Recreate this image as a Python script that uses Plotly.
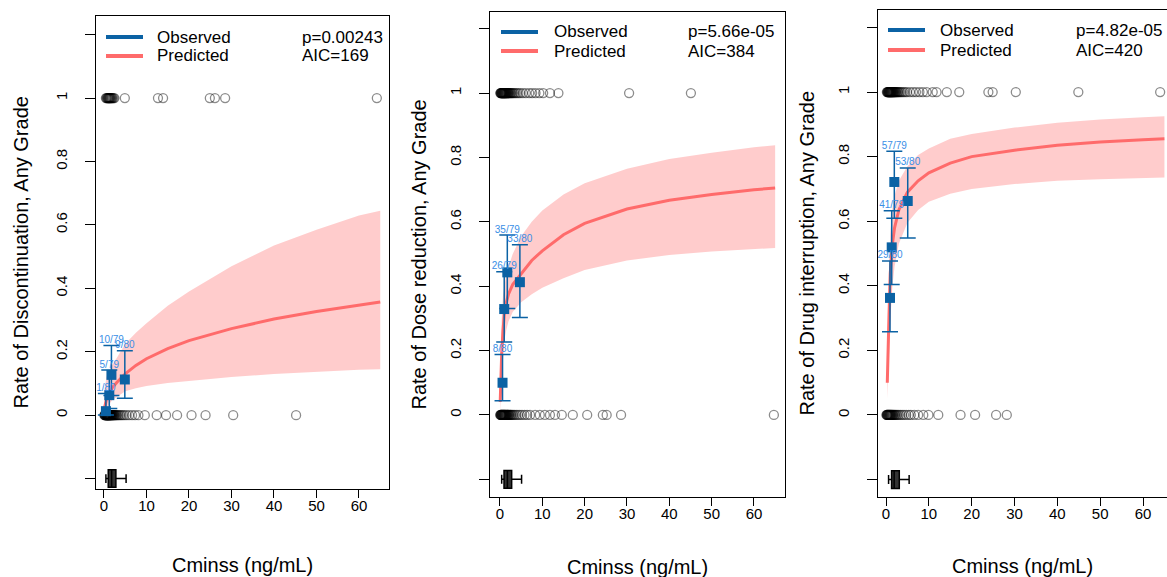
import plotly.graph_objects as go

W, H = 1167, 577

# ---------------- data ----------------
# individual patient Cminss (ng/mL) with event = 1 / event = 0
P1_ONES = [0.45, 0.6, 0.72, 0.85, 0.93, 1.02, 1.1, 1.2, 1.28, 1.36, 1.45, 1.55, 1.66, 1.78, 1.9, 2.05,
           2.25, 2.45, 4.9, 12.7, 13.9, 24.9, 26.1, 28.5, 64.2]
P1_ZEROS = [0.1, 0.16, 0.22, 0.3, 0.35, 0.41, 0.46, 0.5, 0.55, 0.59, 0.63, 0.68, 0.72, 0.76, 0.8, 0.84,
            0.87, 0.91, 0.95, 0.99, 1.03, 1.07, 1.11, 1.15, 1.19, 1.24, 1.28, 1.33, 1.38, 1.42, 1.47,
            1.52, 1.58, 1.63, 1.69, 1.75, 1.81, 1.88, 1.95, 2.02, 2.1, 2.18, 2.27, 2.37, 2.48, 2.6, 2.73,
            2.88, 3.05, 3.25, 3.48, 3.75, 4.05, 4.4, 4.8, 5.3, 5.9, 6.6, 7.3, 8.1, 9.6, 12.4, 14.6, 17.2,
            20.6, 23.9, 30.4, 45.2]
P2_ONES = [0.08, 0.15, 0.22, 0.3, 0.36, 0.42, 0.48, 0.54, 0.6, 0.66, 0.72, 0.78, 0.84, 0.9, 0.96, 1.02,
           1.08, 1.14, 1.2, 1.27, 1.34, 1.41, 1.48, 1.56, 1.64, 1.72, 1.8, 1.9, 2.0, 2.1, 2.22, 2.35, 2.5,
           2.66, 2.85, 3.05, 3.3, 3.6, 3.95, 4.35, 4.8, 5.4, 6.1, 6.9, 7.6, 8.4, 9.3, 10.2, 11.8, 13.8,
           30.5, 45.1]
P2_ZEROS = [0.06, 0.13, 0.2, 0.27, 0.33, 0.39, 0.45, 0.51, 0.57, 0.63, 0.69, 0.75, 0.81, 0.87, 0.93, 0.99,
            1.05, 1.11, 1.17, 1.24, 1.31, 1.38, 1.46, 1.54, 1.62, 1.71, 1.8, 1.9, 2.0, 2.12, 2.25, 2.4,
            2.56, 2.75, 2.95, 3.2, 3.5, 3.85, 4.25, 4.7, 5.2, 5.8, 6.4, 7.1, 8.3, 9.4, 10.6, 11.8, 13.0,
            14.6, 17.2, 20.6, 24.3, 25.2, 28.6, 64.7]
P3_ONES = [0.2, 0.3, 0.38, 0.45, 0.52, 0.58, 0.64, 0.7, 0.76, 0.82, 0.88, 0.94, 1.0, 1.06, 1.12, 1.18,
           1.24, 1.3, 1.37, 1.44, 1.51, 1.58, 1.66, 1.74, 1.82, 1.91, 2.0, 2.1, 2.2, 2.32, 2.45, 2.6,
           2.76, 2.94, 3.15, 3.4, 3.7, 4.05, 4.45, 4.9, 5.6, 6.3, 7.0, 7.8, 8.6, 9.5, 10.9, 11.8, 14.2,
           17.1, 23.9, 24.9, 30.3, 44.9, 64.0]
P3_ZEROS = [0.1, 0.18, 0.26, 0.33, 0.4, 0.47, 0.54, 0.61, 0.68, 0.75, 0.82, 0.89, 0.96, 1.03, 1.1, 1.18,
            1.26, 1.35, 1.45, 1.55, 1.66, 1.78, 1.92, 2.08, 2.25, 2.45, 2.7, 3.0, 3.35, 3.75, 4.2, 4.7,
            5.3, 5.8, 6.6, 7.5, 8.7, 9.9, 12.2, 17.4, 20.8, 25.7, 28.2]

# observed quartile bins: median Cminss, rate, CI, label
P1_BIN_X = [0.45, 1.25, 1.75, 4.9]
P1_BIN_P = [0.0125, 0.063, 0.127, 0.1125]
P1_BIN_LO = [0.0003, 0.021, 0.062, 0.053]
P1_BIN_HI = [0.068, 0.142, 0.22, 0.203]
P1_BIN_LAB = ["1/80", "5/79", "10/79", "9/80"]

P2_BIN_X = [0.6, 1.0, 1.73, 4.7]
P2_BIN_P = [0.10, 0.329, 0.443, 0.4125]
P2_BIN_LO = [0.044, 0.227, 0.331, 0.303]
P2_BIN_HI = [0.188, 0.445, 0.559, 0.529]
P2_BIN_LAB = ["8/80", "26/79", "35/79", "33/80"]

P3_BIN_X = [0.93, 1.33, 1.94, 5.07]
P3_BIN_P = [0.3625, 0.519, 0.7215, 0.6625]
P3_BIN_LO = [0.258, 0.404, 0.609, 0.548]
P3_BIN_HI = [0.477, 0.632, 0.817, 0.765]
P3_BIN_LAB = ["29/80", "41/79", "57/79", "53/80"]

# predicted curves with confidence band
P1_CX = [0.1, 0.3, 0.6, 1, 1.5, 2, 3, 5, 7.5, 10, 15, 20, 30, 40, 50, 60, 65]
P1_PRED = [0.022, 0.037, 0.05, 0.064, 0.077, 0.087, 0.103, 0.13, 0.157, 0.178, 0.21, 0.235, 0.273,
           0.303, 0.327, 0.347, 0.357]
P1_LO = [0.005, 0.012, 0.02, 0.03, 0.04, 0.048, 0.058, 0.075, 0.085, 0.092, 0.101, 0.108, 0.12, 0.13,
         0.137, 0.143, 0.145]
P1_HI = [0.08, 0.1, 0.12, 0.135, 0.15, 0.16, 0.18, 0.225, 0.26, 0.29, 0.345, 0.39, 0.47, 0.535, 0.585,
         0.63, 0.645]

P2_CX = [0.05, 0.1, 0.2, 0.4, 0.7, 1, 1.5, 2, 3, 5, 7.5, 10, 15, 20, 30, 40, 50, 60, 65]
P2_PRED = [0.04, 0.07, 0.12, 0.19, 0.26, 0.31, 0.35, 0.375, 0.405, 0.44, 0.48, 0.51, 0.56, 0.595, 0.64,
           0.667, 0.685, 0.7, 0.705]
P2_LO = [0.01, 0.025, 0.05, 0.1, 0.18, 0.23, 0.265, 0.29, 0.32, 0.35, 0.375, 0.395, 0.425, 0.45, 0.48,
         0.497, 0.508, 0.516, 0.519]
P2_HI = [0.12, 0.16, 0.22, 0.3, 0.37, 0.4, 0.44, 0.46, 0.5, 0.555, 0.6, 0.635, 0.685, 0.72, 0.765,
         0.795, 0.815, 0.832, 0.838]

P3_CX = [0.3, 0.4, 0.5, 0.7, 1, 1.5, 2, 3, 5, 7.5, 10, 15, 20, 30, 40, 50, 60, 65]
P3_PRED = [0.1, 0.17, 0.23, 0.31, 0.44, 0.53, 0.58, 0.635, 0.69, 0.725, 0.75, 0.78, 0.8, 0.82, 0.835,
           0.845, 0.852, 0.855]
P3_LO = [0.05, 0.08, 0.12, 0.19, 0.29, 0.4, 0.46, 0.53, 0.595, 0.635, 0.66, 0.685, 0.7, 0.715, 0.725,
         0.73, 0.734, 0.735]
P3_HI = [0.18, 0.28, 0.36, 0.45, 0.56, 0.64, 0.68, 0.725, 0.77, 0.805, 0.825, 0.855, 0.87, 0.89, 0.905,
         0.915, 0.922, 0.925]

# Cminss boxplot summaries (lower whisker, q1, median, q3, upper whisker)
P1_BOX = [0.45, 1.0, 1.8, 2.8, 5.2]
P2_BOX = [0.4, 0.95, 1.75, 2.76, 5.1]
P3_BOX = [0.6, 1.3, 1.9, 3.1, 5.4]

YTITLES = ["Rate of Discontinuation, Any Grade", "Rate of Dose reduction, Any Grade",
           "Rate of Drug interruption, Any Grade"]
PTEXT = ["p=0.00243", "p=5.66e-05", "p=4.82e-05"]
AICTEXT = ["AIC=169", "AIC=384", "AIC=420"]
XTITLE = "Cminss (ng/mL)"
YTICKVALS = [-0.2, 0, 0.2, 0.4, 0.6, 0.8, 1, 1.2]
YTICKTEXT = ["", "0", "0.2", "0.4", "0.6", "0.8", "1", ""]
XTICKVALS = [0, 10, 20, 30, 40, 50, 60]

# ---------------- layout geometry (pixels) ----------------
PANELS = [
    dict(ones=P1_ONES, zeros=P1_ZEROS, bx=P1_BIN_X, bp=P1_BIN_P, blo=P1_BIN_LO, bhi=P1_BIN_HI,
         blab=P1_BIN_LAB, cx=P1_CX, pred=P1_PRED, lo=P1_LO, hi=P1_HI, box=P1_BOX,
         dom_x=(96, 389), dom_y=(16, 489), xr=[-1.88, 67.06], yr=[-0.233, 1.259],
         leg_y=(37, 56), leg_x=(106, 143, 155), p_x=300, ytitle_x=20, xtitle_y=565, mirror=True),
    dict(ones=P2_ONES, zeros=P2_ZEROS, bx=P2_BIN_X, bp=P2_BIN_P, blo=P2_BIN_LO, bhi=P2_BIN_HI,
         blab=P2_BIN_LAB, cx=P2_CX, pred=P2_PRED, lo=P2_LO, hi=P2_HI, box=P2_BOX,
         dom_x=(490, 785), dom_y=(12, 497), xr=[-2.36, 67.33], yr=[-0.255, 1.252],
         leg_y=(32, 51), leg_x=(501, 538, 552), p_x=686, ytitle_x=418, xtitle_y=567, mirror=True),
    dict(ones=P3_ONES, zeros=P3_ZEROS, bx=P3_BIN_X, bp=P3_BIN_P, blo=P3_BIN_LO, bhi=P3_BIN_HI,
         blab=P3_BIN_LAB, cx=P3_CX, pred=P3_PRED, lo=P3_LO, hi=P3_HI, box=P3_BOX,
         dom_x=(878, 1167), dom_y=(10, 497), xr=[-1.87, 65.6], yr=[-0.254, 1.254],
         leg_y=(30, 50), leg_x=(888, 925, 938), p_x=1074, ytitle_x=806, xtitle_y=566, mirror=False),
]

BLUE = "#0b62a4"
LABEL_BLUE = "#3a8ee6"
RED = "#ff6b6b"
BAND = "rgba(255,0,0,0.2)"
FONT = "Liberation Sans, Arial, sans-serif"


def fx(p):
    return p / W


def fy(p):
    return 1 - p / H


fig = go.Figure()
layout = dict(width=W, height=H, margin=dict(l=0, r=0, t=0, b=0), paper_bgcolor="white",
              plot_bgcolor="white", showlegend=False, font=dict(family=FONT, color="black"))
annotations = []
shapes = []

for i, P in enumerate(PANELS):
    k = "" if i == 0 else str(i + 1)
    xa, ya = "x" + k, "y" + k

    # confidence band
    fig.add_trace(go.Scatter(x=P["cx"] + P["cx"][::-1], y=P["hi"] + P["lo"][::-1], fill="toself",
                             fillcolor=BAND, line=dict(width=0), mode="lines", hoverinfo="skip",
                             xaxis=xa, yaxis=ya))
    # individual observations
    fig.add_trace(go.Scatter(x=P["ones"], y=[1] * len(P["ones"]), mode="markers",
                             marker=dict(symbol="circle-open", size=9, color="rgba(0,0,0,0.45)",
                                         line=dict(width=1.3)), xaxis=xa, yaxis=ya))
    fig.add_trace(go.Scatter(x=P["zeros"], y=[0] * len(P["zeros"]), mode="markers",
                             marker=dict(symbol="circle-open", size=9, color="rgba(0,0,0,0.45)",
                                         line=dict(width=1.3)), xaxis=xa, yaxis=ya))
    # predicted line
    fig.add_trace(go.Scatter(x=P["cx"], y=P["pred"], mode="lines", line=dict(color=RED, width=3),
                             xaxis=xa, yaxis=ya))
    # observed bins with CI
    fig.add_trace(go.Scatter(
        x=P["bx"], y=P["bp"], mode="markers",
        marker=dict(symbol="square", size=10, color=BLUE),
        error_y=dict(type="data", symmetric=False,
                     array=[h - p for h, p in zip(P["bhi"], P["bp"])],
                     arrayminus=[p - l for l, p in zip(P["blo"], P["bp"])],
                     color=BLUE, thickness=1.5, width=8),
        xaxis=xa, yaxis=ya))
    fig.add_trace(go.Scatter(x=P["bx"], y=P["bhi"], mode="text", text=P["blab"],
                             textposition="top center",
                             textfont=dict(size=10, color=LABEL_BLUE, family=FONT),
                             xaxis=xa, yaxis=ya))
    # boxplot of Cminss
    b = P["box"]
    fig.add_trace(go.Box(y=[-0.2], lowerfence=[b[0]], q1=[b[1]], median=[b[2]], q3=[b[3]],
                         upperfence=[b[4]], orientation="h", width=0.055, whiskerwidth=0.5,
                         fillcolor="#333333", line=dict(color="black", width=1.5),
                         boxpoints=False, xaxis=xa, yaxis=ya))

    x0, x1 = P["dom_x"]
    y0, y1 = P["dom_y"]
    layout["xaxis" + k] = dict(domain=[fx(x0), fx(x1)], range=P["xr"], anchor=ya, showgrid=False,
                               zeroline=False, showline=True, linecolor="black", linewidth=1,
                               mirror=True, ticks="outside", ticklen=8, tickcolor="black",
                               ticklabelstandoff=-5,
                               tickvals=XTICKVALS, tickfont=dict(size=15, family=FONT))
    layout["yaxis" + k] = dict(domain=[fy(y1), fy(y0)], range=P["yr"], anchor=xa, showgrid=False,
                               zeroline=False, showline=True, linecolor="black", linewidth=1,
                               mirror=P["mirror"], ticks="outside", ticklen=10, tickcolor="black",
                               tickvals=YTICKVALS, ticktext=YTICKTEXT, tickangle=-90,
                               ticklabelstandoff=12, tickfont=dict(size=15, family=FONT))

    # axis titles
    annotations.append(dict(x=fx(P["ytitle_x"]), y=fy((y0 + y1) / 2), xref="paper", yref="paper",
                            text=YTITLES[i], textangle=-90, showarrow=False,
                            font=dict(size=20, family=FONT), xanchor="center", yanchor="middle"))
    annotations.append(dict(x=fx((x0 + min(x1, x0 + 297)) / 2), y=fy(P["xtitle_y"]), xref="paper",
                            yref="paper", text=XTITLE, showarrow=False,
                            font=dict(size=20, family=FONT), xanchor="center", yanchor="middle"))
    # legend
    lx0, lx1, tx = P["leg_x"]
    for yy, col, lab in [(P["leg_y"][0], BLUE, "Observed"), (P["leg_y"][1], RED, "Predicted")]:
        shapes.append(dict(type="line", xref="paper", yref="paper", x0=fx(lx0), x1=fx(lx1),
                           y0=fy(yy), y1=fy(yy), line=dict(color=col, width=4)))
        annotations.append(dict(x=fx(tx), y=fy(yy), xref="paper", yref="paper", text=lab,
                                showarrow=False, xanchor="left", yanchor="middle",
                                font=dict(size=17, family=FONT)))
    annotations.append(dict(x=fx(P["p_x"]), y=fy(P["leg_y"][0]), xref="paper", yref="paper",
                            text=PTEXT[i], showarrow=False, xanchor="left", yanchor="middle",
                            font=dict(size=17, family=FONT)))
    annotations.append(dict(x=fx(P["p_x"]), y=fy(P["leg_y"][1]), xref="paper", yref="paper",
                            text=AICTEXT[i], showarrow=False, xanchor="left", yanchor="middle",
                            font=dict(size=17, family=FONT)))

layout["annotations"] = annotations
layout["shapes"] = shapes
fig.update_layout(**layout)
fig.write_html("out.html")
